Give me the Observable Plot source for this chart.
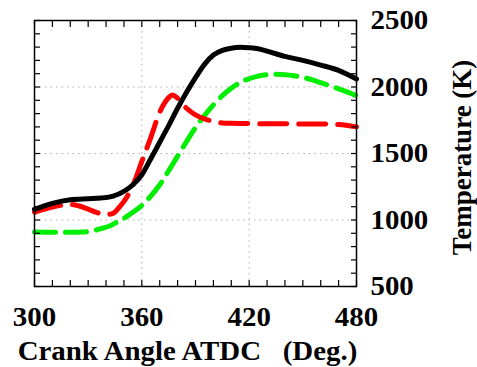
<!DOCTYPE html>
<html>
<head>
<meta charset="utf-8">
<script src="https://cdn.jsdelivr.net/npm/d3@7"></script>
<script src="https://cdn.jsdelivr.net/npm/@observablehq/plot@0.6"></script>
<style>
  body { margin: 0; background: #fff; }
</style>
</head>
<body>
<div id="chart"></div>
<script>
// Data
const blackAngle = [300,310,320,330,337,344,350,355,360,365,370,375,380,385,390,395,400,405,410,415,420,425,430,440,450,460,470,480];
const blackTemp  = [1080,1125,1152,1160,1165,1180,1215,1265,1340,1460,1585,1710,1840,1960,2070,2170,2240,2275,2292,2298,2295,2288,2270,2230,2200,2165,2125,2060];

const redAngle = [300,310,320,325,330,335,340,344,347,350,355,360,365,370,375,377,380,385,390,395,400,405,410,420,440,460,470,480];
const redTemp  = [1058,1097,1117,1105,1082,1055,1040,1050,1090,1140,1260,1440,1620,1810,1920,1940,1915,1840,1790,1760,1742,1730,1727,1725,1723,1722,1718,1700];

const greenAngle = [300,310,320,327,333,337,342,346,350,355,360,365,370,375,380,385,390,395,400,405,410,415,420,425,430,435,440,445,450,455,460,465,470,475,480];
const greenTemp  = [910,908,908,910,920,934,955,983,1012,1058,1110,1180,1265,1370,1480,1590,1695,1785,1865,1935,1990,2035,2062,2082,2093,2096,2093,2085,2072,2055,2032,2010,1986,1962,1935];

const xTickLabels = [300, 360, 420, 480];
const yTickLabels = [500, 1000, 1500, 2000, 2500];
const xMinorTicks = d3.range(300, 481, 10);
const yMinorTicks = d3.range(500, 2501, 100);
const xGrid = [360, 420];
const yGrid = [1000, 1500, 2000];
const xTitle = "Crank Angle ATDC\u00a0\u00a0\u00a0(Deg.)";
const yTitle = "Temperature (K)";

const black = blackAngle.map((a, i) => ({angle: a, temp: blackTemp[i]}));
const red = redAngle.map((a, i) => ({angle: a, temp: redTemp[i]}));
const green = greenAngle.map((a, i) => ({angle: a, temp: greenTemp[i]}));

const font = "'Liberation Serif', 'Times New Roman', serif";

const chart = Plot.plot({
  width: 477,
  height: 367,
  marginLeft: 34,
  marginRight: 121,
  marginTop: 20,
  marginBottom: 81,
  style: {fontFamily: font, fontWeight: "bold", fontSize: "27px", color: "black", background: "white"},
  x: {domain: [300, 480]},
  y: {domain: [500, 2500]},
  marks: [
    Plot.gridX(xGrid, {stroke: "#b0b0b0", strokeOpacity: 1, strokeDasharray: "1.5,4"}),
    Plot.gridY(yGrid, {stroke: "#b0b0b0", strokeOpacity: 1, strokeDasharray: "1.5,4"}),
    Plot.line(green, {x: "angle", y: "temp", stroke: "#00ee00", strokeWidth: 5, strokeDasharray: "21,10", curve: "monotone-x"}),
    Plot.line(red, {x: "angle", y: "temp", stroke: "#ff0000", strokeWidth: 5, strokeDasharray: "27,12", curve: "monotone-x"}),
    Plot.line(black, {x: "angle", y: "temp", stroke: "black", strokeWidth: 5, curve: "monotone-x"}),
    Plot.axisX(xMinorTicks, {anchor: "bottom", tickSize: -6, tickFormat: () => "", label: null, strokeWidth: 1.2}),
    Plot.axisX(xMinorTicks, {anchor: "top", tickSize: -6, tickFormat: () => "", label: null, strokeWidth: 1.2}),
    Plot.axisY(yMinorTicks, {anchor: "left", tickSize: -6, tickFormat: () => "", label: null, strokeWidth: 1.2}),
    Plot.axisY(yMinorTicks, {anchor: "right", tickSize: -6, tickFormat: () => "", label: null, strokeWidth: 1.2}),
    Plot.axisX(xTickLabels, {anchor: "bottom", tickSize: 0, tickPadding: 20, label: null, tickFormat: d3.format("d"), fontSize: 27, fontWeight: "bold"}),
    Plot.axisY(yTickLabels, {anchor: "right", tickSize: 0, tickPadding: 14, label: null, tickFormat: d3.format("d"), fontSize: 27, fontWeight: "bold"}),
    Plot.frame({stroke: "black", strokeWidth: 1.5}),
    Plot.text([xTitle], {frameAnchor: "bottom", dy: 65, dx: -8, lineAnchor: "middle", textAnchor: "middle", fontSize: 27, fontWeight: "bold"}),
    Plot.text([yTitle], {frameAnchor: "right", rotate: -90, dx: 106, dy: 4, lineAnchor: "middle", textAnchor: "middle", fontSize: 27, fontWeight: "bold"})
  ]
});
document.getElementById("chart").appendChild(chart);

// The reference's lettering is slightly wider than Liberation Serif: stretch horizontal text
chart.querySelectorAll("text").forEach(t => {
  const tr = t.getAttribute("transform") || "";
  if (tr.includes("rotate")) return;
  const len = t.getComputedTextLength();
  if (len > 0) {
    t.setAttribute("textLength", (len * 1.07).toFixed(1));
    t.setAttribute("lengthAdjust", "spacingAndGlyphs");
  }
});
</script>
</body>
</html>
